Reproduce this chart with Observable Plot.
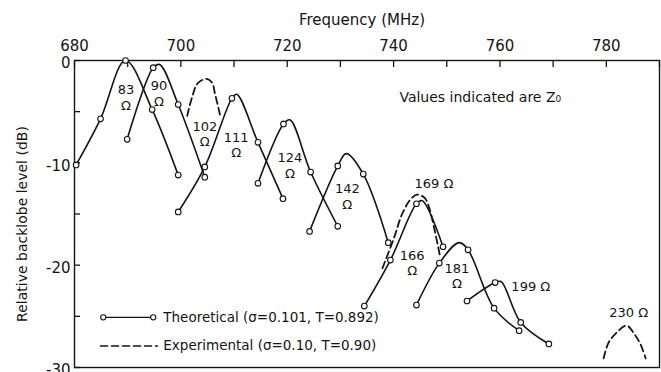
<!DOCTYPE html>
<html>
<head>
<meta charset="utf-8">
<script src="https://cdn.jsdelivr.net/npm/d3@7"></script>
<script src="https://cdn.jsdelivr.net/npm/@observablehq/plot@0.6"></script>
<style>
  body { margin: 0; background: #fff; }
  svg { display: block; }
</style>
</head>
<body>
<div id="chart"></div>
<script>
// Axis ticks
const freqTicks = [680, 690, 700, 710, 720, 730, 740, 750, 760, 770, 780, 790];
const freqLabels = [680, 700, 720, 740, 760, 780];
const dbTicks = [0, -5, -10, -15, -20, -25, -30];
const dbLabels = [0, -10, -20, -30];

// Theoretical curves: [frequency MHz, level dB, computed point shown with circle (1) or read peak (0)]
const z83  = [[680.3, -10.2, 1], [684.9, -5.7, 1], [689.6, 0.0, 1], [694.6, -4.8, 1], [699.5, -11.2, 1]];
const z90  = [[689.9, -7.7, 1], [694.8, -0.7, 1], [696.0, -0.4, 0], [699.5, -4.3, 1], [704.5, -11.4, 1]];
const z111 = [[699.5, -14.8, 1], [704.5, -10.4, 1], [709.6, -3.7, 1], [710.5, -3.3, 0], [714.5, -8.0, 1], [719.2, -13.5, 1]];
const z124 = [[714.5, -12.0, 1], [719.3, -6.2, 1], [720.5, -5.8, 0], [724.4, -10.9, 1], [729.5, -16.2, 1]];
const z142 = [[724.2, -16.7, 1], [729.5, -10.3, 1], [731.1, -9.1, 0], [734.3, -11.1, 1], [739.0, -17.8, 1]];
const z166 = [[734.5, -24.0, 1], [739.4, -19.5, 1], [744.3, -14.0, 1], [745.4, -13.7, 0], [749.3, -18.2, 1]];
const z181 = [[744.3, -23.9, 1], [748.6, -19.8, 1], [752.3, -17.8, 0], [754.0, -18.5, 1], [758.9, -24.2, 1], [763.6, -26.4, 1]];
const z199 = [[753.8, -23.5, 1], [759.1, -21.7, 1], [760.2, -21.6, 0], [763.9, -25.6, 1], [769.2, -27.7, 1]];

// Experimental curves: [frequency MHz, level dB]
const e102 = [[701.2, -5.4], [702.1, -3.6], [703.2, -2.2], [704.9, -1.8], [705.9, -2.2], [706.4, -3.2], [707.4, -5.4]];
const e169 = [[737.9, -20.3], [740.1, -17.3], [741.6, -15.0], [743.3, -13.5], [744.4, -13.1], [745.8, -13.4], [746.7, -14.4], [747.6, -16.3], [748.8, -19.3]];
const e230 = [[779.5, -29.1], [780.4, -27.6], [781.9, -26.6], [783.8, -25.9], [785.1, -26.6], [786.4, -27.7], [787.4, -29.1]];

// Curve labels
const labelText = ["83\nΩ", "90\nΩ", "102\nΩ", "111\nΩ", "124\nΩ", "142\nΩ", "166\nΩ", "181\nΩ", "169 Ω", "199 Ω", "230 Ω"];
const labelF    = [689.7, 695.9, 704.5, 710.4, 720.5, 731.3, 743.5, 751.9, 747.6, 765.8, 784.2];
const labelDB   = [-3.55, -3.2, -7.15, -8.2, -10.2, -13.25, -19.75, -21.0, -12.0, -22.0, -24.6];

const noteText = "Values indicated are Z₀";
const noteF = 756.3, noteDB = -3.6;

// Legend
const legendLabels = ["Theoretical (σ=0.101, T=0.892)", "Experimental (σ=0.10, T=0.90)"];
const legendDB = [-25.1, -27.9];
const legendSampleF = [[685.4, 694.8], [684.9, 695.6]];
const legendTextF = 696.7;

const theoretical = [["83", z83], ["90", z90], ["111", z111], ["124", z124], ["142", z142], ["166", z166], ["181", z181], ["199", z199]];
const experimental = [["102", e102], ["169", e169], ["230", e230]];

const curveRows = theoretical.flatMap(([z, pts]) => pts.map(([f, db, m]) => ({z, f, db, m})));
const expRows = experimental.flatMap(([z, pts]) => pts.map(([f, db]) => ({z, f, db})));
const labelRows = labelText.map((t, i) => ({t, f: labelF[i], db: labelDB[i]}));

const legTheo = legendSampleF[0].map(f => ({f, db: legendDB[0]}));
const legExp = legendSampleF[1].map(f => ({f, db: legendDB[1]}));
const legText = legendLabels.map((t, i) => ({t, f: legendTextF, db: legendDB[i]}));

const ink = "#141414";
const chart = Plot.plot({
  width: 661,
  height: 372,
  marginTop: 60,
  marginLeft: 74,
  marginRight: 2,
  marginBottom: 5,
  style: {fontFamily: "DejaVu Sans", background: "white", color: ink, overflow: "visible"},
  x: {domain: [680, 790]},
  y: {domain: [-30, 0]},
  marks: [
    Plot.frame({stroke: ink, strokeWidth: 1.4}),
    // inward ticks (outward ticks shifted inside the frame)
    Plot.axisX({anchor: "top", ticks: freqTicks, tickSize: 6, dy: 6, tickFormat: () => "", label: null, strokeWidth: 1.3}),
    Plot.axisY({anchor: "left", ticks: dbTicks, tickSize: 6, dx: 6, tickFormat: () => "", label: null, strokeWidth: 1.3}),
    // tick labels
    Plot.axisX({anchor: "top", ticks: freqLabels, tickSize: 0, tickPadding: 10, fontSize: 15, label: null}),
    Plot.axisY({anchor: "left", ticks: dbLabels, tickSize: 0, tickPadding: 4, dy: 3,
      tickFormat: d => String(d), fontSize: 15, label: null}),
    Plot.text(["Frequency (MHz)"], {frameAnchor: "top", dy: -46, dx: -5, fontSize: 15}),
    Plot.text(["Relative backlobe level (dB)"], {frameAnchor: "left", textAnchor: "middle", dx: -52, dy: 10, rotate: -90, fontSize: 14}),
    Plot.line(curveRows, {x: "f", y: "db", z: "z", curve: "catmull-rom", stroke: ink, strokeWidth: 1.6}),
    Plot.line(expRows, {x: "f", y: "db", z: "z", curve: "catmull-rom", stroke: ink, strokeWidth: 1.8, strokeDasharray: "7,4"}),
    Plot.dot(curveRows.filter(d => d.m), {x: "f", y: "db", r: 2.8, fill: "white", stroke: ink, strokeWidth: 1.1}),
    Plot.text(labelRows, {x: "f", y: "db", text: "t", fontSize: 13, lineHeight: 1.2, fill: ink}),
    Plot.text([noteText], {x: () => noteF, y: () => noteDB, fontSize: 14, fill: ink}),
    Plot.line(legTheo, {x: "f", y: "db", stroke: ink, strokeWidth: 1.4}),
    Plot.dot(legTheo, {x: "f", y: "db", r: 2.6, fill: "white", stroke: ink, strokeWidth: 1.1}),
    Plot.line(legExp, {x: "f", y: "db", stroke: ink, strokeWidth: 1.6, strokeDasharray: "7,4"}),
    Plot.text(legText, {x: "f", y: "db", text: "t", textAnchor: "start", fontSize: 13.5, fill: ink})
  ]
});
document.getElementById("chart").append(chart);
</script>
</body>
</html>
